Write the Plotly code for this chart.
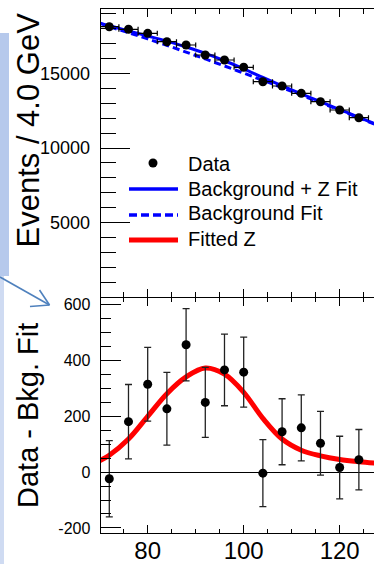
import plotly.graph_objects as go

# ---- data -------------------------------------------------------------
mass = [72, 76, 80, 84, 88, 92, 96, 100, 104, 108, 112, 116, 120, 124]
events = [18119, 17945, 17677, 17115, 16894, 16225, 15890, 15402, 14438,
          14150, 13661, 13099, 12543, 12028]
bin_half_width = [2] * len(mass)

diff = [-24, 180, 314, 226, 455, 249, 365, 357, -4, 144, 158, 103, 16, 44]
diff_err = [136, 133, 132, 130, 129, 125, 128, 125, 120, 118, 118, 114, 112, 108]

fit_mass = [70, 72, 76, 80, 84, 88, 92, 96, 100, 104, 108, 112, 116, 120, 124, 128]
bkg_fit = [18340, 18120, 17720, 17300, 16870, 16420, 15960, 15490, 15010,
           14530, 14040, 13540, 13040, 12530, 12020, 11500]
z_fit = [40, 60, 118, 199, 280, 340, 372, 350, 285, 192, 118, 78, 58, 45, 37, 31]
total_fit = [b + z for b, z in zip(bkg_fit, z_fit)]

x_ticks = [80, 100, 120]
top_y_ticks = [5000, 10000, 15000]
bottom_y_ticks = [-200, 0, 200, 400, 600]
bottom_y_text = ["-200", "0", "200", "400", "600"]
legend_labels = ["Data", "Background + Z Fit", "Background Fit", "Fitted Z"]

# ---- figure geometry (pixels) ------------------------------------------
W, H = 374, 564
FONT = "Arial, Liberation Sans, sans-serif"


def px(x):
    return x / W


def py(y):
    return 1 - y / H


x_left = 100.7
x_range = [70.21, 127.15]

fig = go.Figure()

# top panel: data and fits
fig.add_trace(go.Scatter(
    x=fit_mass, y=total_fit, mode="lines", line=dict(color="#0000ff", width=3, shape="spline"),
    xaxis="x", yaxis="y", showlegend=False))
fig.add_trace(go.Scatter(
    x=fit_mass, y=bkg_fit, mode="lines",
    line=dict(color="#0000ff", width=3, dash="7px,4px", shape="spline"),
    xaxis="x", yaxis="y", showlegend=False))
fig.add_trace(go.Scatter(
    x=mass, y=events, mode="markers",
    marker=dict(color="black", size=9),
    error_x=dict(type="data", array=bin_half_width, color="black", thickness=1.2, width=2.5),
    xaxis="x", yaxis="y", showlegend=False))

# bottom panel: residuals and fitted Z
fig.add_trace(go.Scatter(
    x=fit_mass, y=z_fit, mode="lines", line=dict(color="#ff0000", width=5, shape="spline"),
    xaxis="x2", yaxis="y2", showlegend=False))
fig.add_trace(go.Scatter(
    x=mass, y=diff, mode="markers",
    marker=dict(color="black", size=9),
    error_y=dict(type="data", array=diff_err, color="#222222", thickness=1.3, width=3.5),
    xaxis="x2", yaxis="y2", showlegend=False))

axis_common = dict(showgrid=False, showline=True, linecolor="black", linewidth=1.3,
                   ticks="inside", tickcolor="black", tickwidth=1.2)

fig.update_layout(
    width=W, height=H,
    margin=dict(l=0, r=0, t=0, b=0, autoexpand=False),
    paper_bgcolor="white", plot_bgcolor="white",
    font=dict(family=FONT, color="black"),
    xaxis=dict(axis_common, domain=[px(x_left), 1], range=x_range, anchor="y",
               mirror="ticks", showticklabels=False, zeroline=False,
               tickmode="linear", tick0=0, dtick=20, ticklen=8,
               minor=dict(ticks="inside", tick0=0, dtick=5, ticklen=5,
                          tickcolor="black", tickwidth=1.2, showgrid=False)),
    yaxis=dict(axis_common, domain=[py(297.4), py(9.3)], range=[0, 19284], anchor="x",
               zeroline=False, tickmode="array", tickvals=top_y_ticks,
               ticktext=[str(v) for v in top_y_ticks],
               ticklen=29, tickfont=dict(size=18, family=FONT, color="black"),
               ticklabelstandoff=6,
               minor=dict(ticks="inside", tickmode="linear", tick0=0, dtick=1000, ticklen=15,
                          tickcolor="black", tickwidth=1.2, showgrid=False)),
    xaxis2=dict(axis_common, domain=[px(x_left), 1], range=x_range, anchor="y2",
                mirror="ticks", zeroline=False,
                tickmode="array", tickvals=x_ticks, ticklen=8,
                ticklabelstandoff=-4,
                tickfont=dict(size=24, family=FONT, color="black"),
                minor=dict(ticks="inside", tickmode="linear", tick0=0, dtick=5, ticklen=4,
                           tickcolor="black", tickwidth=1.2, showgrid=False)),
    yaxis2=dict(axis_common, domain=[py(533), py(297.5)], range=[-218, 624], anchor="x2",
                zeroline=True, zerolinecolor="black", zerolinewidth=1.3,
                tickmode="array", tickvals=bottom_y_ticks, ticktext=bottom_y_text,
                ticklen=20,
                tickfont=dict(size=16, family=FONT, color="black"),
                ticklabelstandoff=6,
                minor=dict(ticks="inside", tickmode="linear", tick0=0, dtick=50, ticklen=10,
                           tickcolor="black", tickwidth=1.2, showgrid=False)),
)

shapes = []
# slide decoration on the left edge
shapes.append(dict(type="rect", xref="paper", yref="paper",
                   x0=px(0), x1=px(9), y0=py(276), y1=py(33),
                   fillcolor="#b6c9ec", line=dict(width=0), layer="below"))
shapes.append(dict(type="rect", xref="paper", yref="paper",
                   x0=px(0), x1=px(4), y0=py(564), y1=py(276),
                   fillcolor="#cfdbf2", line=dict(width=0), layer="below"))
arrow_col = "#4f81bd"
for (x0, y0, x1, y1) in [(0, 277, 49.5, 305), (39.5, 290, 49.5, 305), (30, 306.5, 49.5, 305)]:
    shapes.append(dict(type="line", xref="paper", yref="paper",
                       x0=px(x0), y0=py(y0), x1=px(x1), y1=py(y1),
                       line=dict(color=arrow_col, width=1.6)))

# legend symbols
shapes.append(dict(type="circle", xref="paper", yref="paper",
                   x0=px(148.5), x1=px(157.5), y0=py(167.5), y1=py(158.5),
                   fillcolor="black", line=dict(width=0)))
shapes.append(dict(type="line", xref="paper", yref="paper",
                   x0=px(129), x1=px(178), y0=py(189), y1=py(189),
                   line=dict(color="#0000ff", width=3.5)))
shapes.append(dict(type="line", xref="paper", yref="paper",
                   x0=px(129), x1=px(178), y0=py(215), y1=py(215),
                   line=dict(color="#0000ff", width=3.5, dash="8px,4px")))
shapes.append(dict(type="line", xref="paper", yref="paper",
                   x0=px(129), x1=px(178), y0=py(240), y1=py(240),
                   line=dict(color="#ff0000", width=5)))
fig.update_layout(shapes=shapes)

annotations = []
for label, yc in zip(legend_labels, [164, 188.5, 213.5, 239]):
    annotations.append(dict(text=label, xref="paper", yref="paper",
                            x=px(185.5), y=py(yc), xanchor="left", yanchor="middle",
                            showarrow=False, font=dict(size=20, family=FONT, color="black")))
annotations.append(dict(text="Events / 4.0 GeV", xref="paper", yref="paper",
                        x=px(28), y=py(130.5), xanchor="center", yanchor="middle",
                        textangle=-90, showarrow=False,
                        font=dict(size=31, family=FONT, color="black")))
annotations.append(dict(text="Data - Bkg. Fit", xref="paper", yref="paper",
                        x=px(28), y=py(416), xanchor="center", yanchor="middle",
                        textangle=-90, showarrow=False,
                        font=dict(size=29, family=FONT, color="black")))
fig.update_layout(annotations=annotations)

fig.write_html("out.html")
